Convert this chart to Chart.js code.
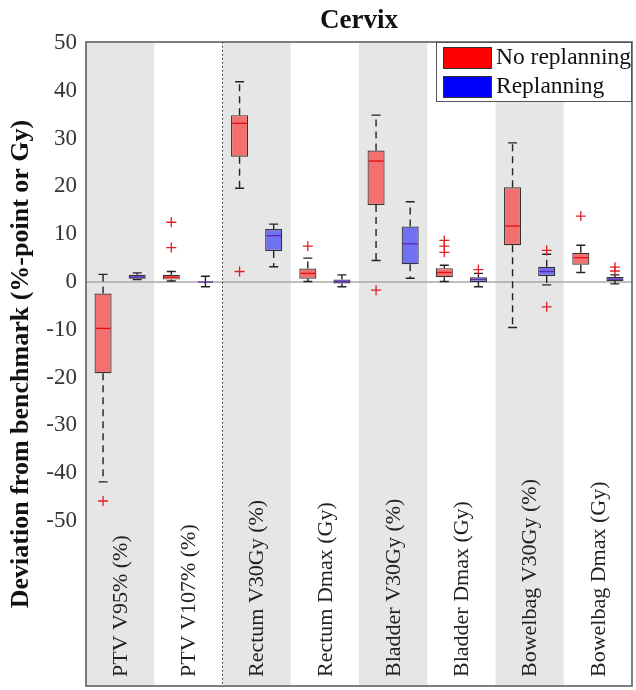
<!DOCTYPE html>
<html>
<head>
<meta charset="utf-8">
<script src="https://cdn.jsdelivr.net/npm/chart.js@4.4.0/dist/chart.umd.min.js"></script>
<style>
  html, body { margin: 0; padding: 0; background: #fff; }
  #wrap { width: 636px; height: 690px; }
</style>
</head>
<body>
<div id="wrap"><canvas id="chart"></canvas></div>
<script>
const categories = ['PTV V95% (%)', 'PTV V107% (%)', 'Rectum V30Gy (%)', 'Rectum Dmax (Gy)',
  'Bladder V30Gy (%)', 'Bladder Dmax (Gy)', 'Bowelbag V30Gy (%)', 'Bowelbag Dmax (Gy)'];
const seriesNames = ['No replanning', 'Replanning'];
const yTicks = [-50, -40, -30, -20, -10, 0, 10, 20, 30, 40, 50];

// No replanning
const noRepLow    = [-41.8, 0.2, 19.6, 0.1, 4.5, 0.1, -9.5, 2.0];
const noRepQ1     = [-19.1, 0.5, 26.2, 0.7, 16.1, 1.0, 7.7, 3.6];
const noRepMedian = [-9.7, 1.0, 33.2, 1.8, 25.3, 2.0, 11.7, 5.1];
const noRepQ3     = [-2.4, 1.5, 34.9, 2.8, 27.5, 2.9, 19.8, 6.1];
const noRepHigh   = [1.6, 2.2, 41.9, 5.0, 34.9, 3.5, 29.1, 7.7];
const noRepOut    = [[-45.8], [7.2, 12.5], [2.2], [7.5], [-1.7], [6.2, 7.5, 8.7], [], [13.8]];

// Replanning
const repLow    = [0.5, -1.0, 3.2, -1.0, 0.8, -1.0, -0.6, -0.4];
const repQ1     = [0.7, 0.0, 6.5, -0.3, 3.7, 0.0, 1.25, 0.2];
const repMedian = [1.0, 0.0, 9.7, 0.15, 8.0, 0.55, 2.2, 0.6];
const repQ3     = [1.5, 0.0, 11.1, 0.55, 11.6, 1.0, 3.2, 1.05];
const repHigh   = [1.9, 1.2, 12.1, 1.5, 16.8, 1.8, 5.8, 1.5];
const repOut    = [[], [], [], [], [], [2.6], [6.6, -5.2], [2.3, 3.1]];

const stats = [
  { low: noRepLow, med: noRepMedian, high: noRepHigh, q1: noRepQ1, q3: noRepQ3, out: noRepOut, medColor: '#e01010' },
  { low: repLow, med: repMedian, high: repHigh, q1: repQ1, q3: repQ3, out: repOut, medColor: '#5b2aa8' }
];

const SERIF = '"Liberation Serif", "Times New Roman", serif';

const boxPlot = {
  id: 'boxPlot',
  beforeDatasetsDraw(chart) {
    const { ctx, chartArea: a, scales: { y } } = chart;
    const w = (a.right - a.left) / categories.length;
    ctx.save();
    // alternating bands
    ctx.fillStyle = '#e6e6e6';
    categories.forEach((c, i) => {
      if (i % 2 === 0) ctx.fillRect(a.left + i * w, a.top, w, a.bottom - a.top);
    });
    // zero line
    ctx.strokeStyle = '#a8a8a8';
    ctx.lineWidth = 1.5;
    ctx.beginPath();
    ctx.moveTo(a.left, y.getPixelForValue(0));
    ctx.lineTo(a.right, y.getPixelForValue(0));
    ctx.stroke();
    // dotted divider between PTV and OAR
    ctx.strokeStyle = '#222';
    ctx.lineWidth = 1;
    ctx.setLineDash([1.5, 2.5]);
    ctx.beginPath();
    ctx.moveTo(a.left + 2 * w, a.top);
    ctx.lineTo(a.left + 2 * w, a.bottom);
    ctx.stroke();
    ctx.setLineDash([]);

    // whiskers (drawn under boxes)
    stats.forEach((s, d) => {
      chart.getDatasetMeta(d).data.forEach((bar, i) => {
        const cx = bar.x, cap = 4.5;
        const yl = y.getPixelForValue(s.low[i]), yh = y.getPixelForValue(s.high[i]);
        const y1 = y.getPixelForValue(s.q1[i]), y3 = y.getPixelForValue(s.q3[i]);
        ctx.strokeStyle = '#222';
        ctx.lineWidth = 1.4;
        ctx.setLineDash([7, 5]);
        ctx.beginPath();
        ctx.moveTo(cx, y3); ctx.lineTo(cx, yh);
        ctx.moveTo(cx, y1); ctx.lineTo(cx, yl);
        ctx.stroke();
        ctx.setLineDash([]);
        ctx.beginPath();
        ctx.moveTo(cx - cap, yh); ctx.lineTo(cx + cap, yh);
        ctx.moveTo(cx - cap, yl); ctx.lineTo(cx + cap, yl);
        ctx.stroke();
      });
    });
    ctx.restore();
  },
  afterDatasetsDraw(chart) {
    const { ctx, chartArea: a, scales: { y } } = chart;
    const w = (a.right - a.left) / categories.length;
    ctx.save();
    stats.forEach((s, d) => {
      chart.getDatasetMeta(d).data.forEach((bar, i) => {
        const half = bar.width / 2;
        const ym = y.getPixelForValue(s.med[i]);
        ctx.strokeStyle = s.medColor;
        ctx.lineWidth = 1.3;
        ctx.beginPath();
        ctx.moveTo(bar.x - half + 1, ym); ctx.lineTo(bar.x + half - 1, ym);
        ctx.stroke();
        // outliers
        ctx.strokeStyle = '#e02020';
        ctx.lineWidth = 1.3;
        s.out[i].forEach(v => {
          const yo = y.getPixelForValue(v);
          ctx.beginPath();
          ctx.moveTo(bar.x - 5, yo); ctx.lineTo(bar.x + 5, yo);
          ctx.moveTo(bar.x, yo - 5); ctx.lineTo(bar.x, yo + 5);
          ctx.stroke();
        });
      });
    });
    // category labels inside the plot, rotated
    ctx.fillStyle = '#222';
    ctx.font = '22px ' + SERIF;
    ctx.textAlign = 'left';
    ctx.textBaseline = 'middle';
    categories.forEach((c, i) => {
      ctx.save();
      ctx.translate(a.left + (i + 0.5) * w + 1, a.bottom - 9);
      ctx.rotate(-Math.PI / 2);
      ctx.fillText(c, 0, 0);
      ctx.restore();
    });
    // legend box
    const lx = 436, ly = a.top, lw = a.right - 436, lh = 60;
    ctx.fillStyle = '#fff';
    ctx.fillRect(lx, ly, lw, lh);
    ctx.strokeStyle = '#555';
    ctx.lineWidth = 1;
    ctx.strokeRect(lx + 0.5, ly + 0.5, lw - 1, lh - 1);
    const swatch = ['#ff0000', '#0000ff'];
    seriesNames.forEach((n, k) => {
      const sy = ly + 5 + k * 29;
      ctx.fillStyle = swatch[k];
      ctx.fillRect(443, sy, 49, 22);
      ctx.strokeStyle = '#333';
      ctx.strokeRect(443.5, sy + 0.5, 48, 21);
      ctx.fillStyle = '#111';
      ctx.font = '23.5px ' + SERIF;
      ctx.textBaseline = 'middle';
      ctx.fillText(n, 496, sy + 11);
    });
    // axes frame
    ctx.strokeStyle = '#555';
    ctx.lineWidth = 1.5;
    ctx.strokeRect(a.left, a.top, a.right - a.left, a.bottom - a.top);
    ctx.restore();
  }
};

new Chart(document.getElementById('chart'), {
  type: 'bar',
  data: {
    labels: categories,
    datasets: [
      {
        label: seriesNames[0],
        data: noRepQ1.map((v, i) => [v, noRepQ3[i]]),
        backgroundColor: '#f27070',
        borderColor: '#333',
        borderWidth: 1.2,
        borderSkipped: false,
        categoryPercentage: 1,
        barPercentage: 0.5
      },
      {
        label: seriesNames[1],
        data: repQ1.map((v, i) => [v, repQ3[i]]),
        backgroundColor: '#7070f2',
        borderColor: '#333',
        borderWidth: 1.2,
        borderSkipped: false,
        categoryPercentage: 1,
        barPercentage: 0.5
      }
    ]
  },
  options: {
    responsive: true,
    maintainAspectRatio: false,
    animation: false,
    layout: { padding: { top: 0, right: 4, bottom: 4, left: 0 } },
    plugins: {
      legend: { display: false },
      tooltip: { enabled: false },
      title: {
        display: true,
        text: 'Cervix',
        fullSize: false,
        color: '#111',
        font: { family: SERIF, size: 27, weight: 'bold' },
        padding: { top: 5, bottom: 4.6 }
      }
    },
    scales: {
      x: { display: false },
      y: {
        min: -84.5,
        max: 50.2,
        afterBuildTicks: s => { s.ticks = yTicks.map(v => ({ value: v })); },
        afterFit: s => { s.width = 86; s.paddingTop = 0; s.paddingBottom = 0; },
        grid: { display: false, drawTicks: false },
        border: { display: false },
        ticks: { color: '#333', font: { family: SERIF, size: 23 }, padding: 9 },
        title: {
          display: true,
          text: 'Deviation from benchmark (%-point or Gy)',
          color: '#111',
          font: { family: SERIF, size: 26, weight: 'bold' },
          padding: { top: 6, bottom: 0 }
        }
      }
    }
  },
  plugins: [boxPlot]
});
</script>
</body>
</html>
